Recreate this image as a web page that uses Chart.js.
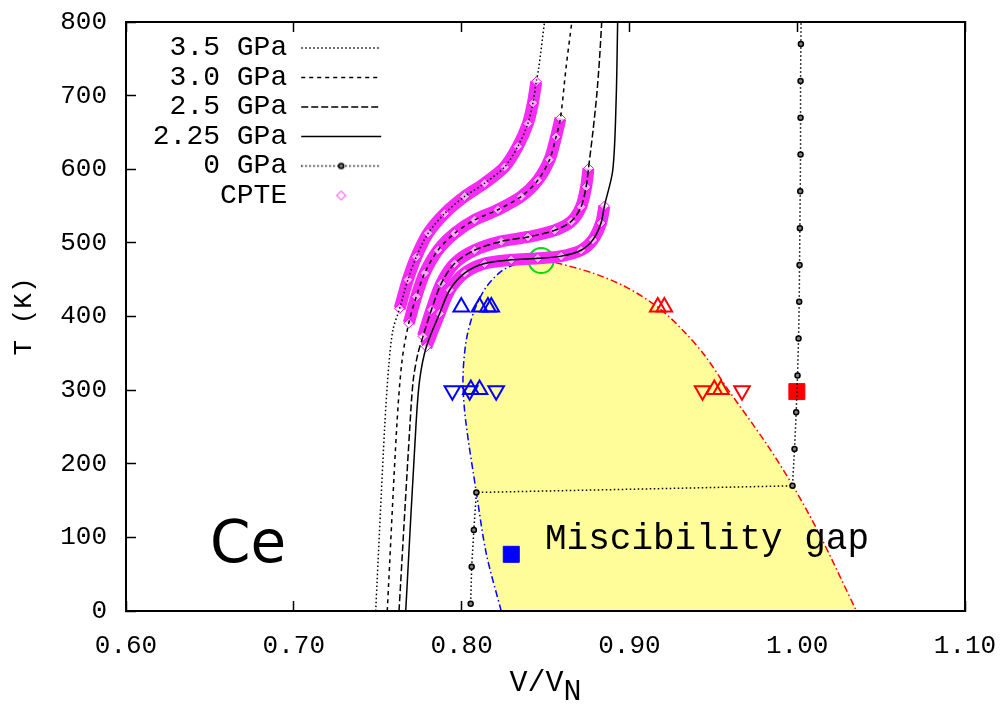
<!DOCTYPE html>
<html>
<head>
<meta charset="utf-8">
<title>Ce - miscibility gap</title>
<script src="https://cdn.jsdelivr.net/npm/chart.js@4.4.1/dist/chart.umd.min.js"></script>
<style>
	html, body { margin: 0; padding: 0; background: #fff; }
	#wrap { width: 1003px; height: 704px; }
</style>
</head>
<body>
<div id="wrap"><canvas id="ce-chart" width="1003" height="704"></canvas></div>
<script>
/* global Chart */
(function () {
	'use strict';

	// ── Data: [V/VN, T (K)] ──────────────────────────────────────────────────

	var X_TICKS = [0.60, 0.70, 0.80, 0.90, 1.00, 1.10];
	var Y_TICKS = [0, 100, 200, 300, 400, 500, 600, 700, 800];

	// Isobars: lower tail, CPTE part, upper tail.
	var low35  = [[0.7488, 0], [0.7542, 252], [0.7567, 336], [0.7591, 382]];
	var cpte35 = [[0.7631, 411], [0.7680, 450], [0.7730, 481], [0.7800, 513], [0.7899, 540], [0.8018, 563],
		[0.8137, 581], [0.8256, 603], [0.8335, 631], [0.8395, 662], [0.8425, 690], [0.8445, 719]];
	var high35 = [[0.8458, 735], [0.8494, 800]];

	var low30  = [[0.7557, 0], [0.7614, 252], [0.7645, 340]];
	var cpte30 = [[0.7685, 391], [0.7730, 427], [0.7780, 459], [0.7859, 490], [0.7958, 513], [0.8077, 531],
		[0.8216, 545], [0.8355, 563], [0.8454, 585], [0.8524, 613], [0.8563, 644], [0.8589, 669]];
	var high30 = [[0.8623, 739], [0.8657, 800]];

	var low25  = [[0.7627, 0], [0.7692, 252], [0.7712, 314], [0.7740, 350]];
	var cpte25 = [[0.7770, 373], [0.7820, 409], [0.7879, 445], [0.7958, 472], [0.8077, 490], [0.8236, 502],
		[0.8395, 508], [0.8554, 517], [0.8653, 529], [0.8712, 549], [0.8742, 576], [0.8756, 601]];
	var high25 = [[0.8782, 650], [0.8805, 700], [0.8822, 750], [0.8835, 800]];

	var low225  = [[0.7667, 0], [0.7728, 252], [0.7750, 314]];
	var cpte225 = [[0.7790, 359], [0.7869, 404], [0.7929, 436], [0.8018, 459], [0.8137, 472], [0.8296, 477],
		[0.8454, 479], [0.8594, 482], [0.8712, 490], [0.8782, 504], [0.8831, 527], [0.8851, 550]];
	var high225 = [[0.8901, 599], [0.8921, 694], [0.8930, 800]];

	// 0 GPa path (gamma side, alpha-gamma jump, alpha side).
	var gpa0 = [[1.0024, 820], [1.0022, 770], [1.0020, 720], [1.0020, 670], [1.0020, 620], [1.0018, 570],
		[1.0016, 520], [1.0014, 470], [1.0012, 420], [1.0008, 370], [1.0002, 320], [0.9994, 270],
		[0.9984, 220], [0.9972, 170], [0.8088, 161], [0.8073, 110], [0.8060, 60], [0.8054, 10]];

	// Miscibility gap boundary, left branch bottom -> critical point, right branch critical -> bottom.
	var gapLeft  = [[0.8236, 0], [0.8147, 78], [0.8088, 161], [0.8024, 259], [0.8008, 314], [0.8028, 368],
		[0.8077, 409], [0.8147, 440], [0.8246, 463], [0.8365, 474], [0.8474, 476]];
	var gapRight = [[0.8474, 476], [0.8544, 474], [0.8782, 459], [0.8980, 440], [0.9179, 411], [0.9337, 377],
		[0.9456, 345], [0.9590, 300], [0.9814, 228], [0.9972, 171], [1.0131, 105], [1.0353, 0]];

	var critical = [[0.8474, 476]];

	// Experimental points.
	var blueUp   = [[0.7998, 413], [0.8107, 413], [0.8157, 413], [0.8177, 413], [0.8055, 301], [0.8107, 301]];
	var blueDown = [[0.7945, 299], [0.8048, 299], [0.8206, 299]];
	var redUp    = [[0.9169, 413], [0.9208, 413], [0.9506, 301], [0.9546, 301]];
	var redDown  = [[0.9436, 299], [0.9671, 299]];
	var blueSq   = [[0.8296, 77]];
	var redSq    = [[0.9998, 298]];

	// Free text anchored in data space.
	var NOTES = [
		{ text: 'Ce', x: 0.650, y: 66, font: '58px "DejaVu Sans"' },
		{ text: 'Miscibility gap', x: 0.8497, y: 84, font: '36px "Liberation Mono"' }
	];

	// ── Helpers ──────────────────────────────────────────────────────────────

	var MONO = '"Liberation Mono", "DejaVu Sans Mono", monospace';

	function pts(list) {
		return list.map(function (p) { return { x: p[0], y: p[1] }; });
	}

	function glyph(w, h, paint) {
		var c = document.createElement('canvas');
		c.width = w;
		c.height = h;
		paint(c.getContext('2d'), w, h);
		return c;
	}

	// Legend samples that Chart.js cannot draw from a point style alone.
	var zeroGlyph = glyph(80, 9, function (g, w, h) {
		g.strokeStyle = '#000';
		g.lineWidth = 1.5;
		g.setLineDash([1.5, 2.5]);
		g.beginPath(); g.moveTo(0, h / 2); g.lineTo(w, h / 2); g.stroke();
		g.setLineDash([]);
		g.fillStyle = '#808080';
		g.beginPath(); g.arc(w / 2, h / 2, 2.5, 0, Math.PI * 2); g.fill(); g.stroke();
	});

	var cpteGlyph = glyph(12, 12, function (g) {
		g.strokeStyle = '#ff00ff';
		g.lineWidth = 1;
		g.beginPath();
		g.moveTo(6, 1.5); g.lineTo(10.5, 6); g.lineTo(6, 10.5); g.lineTo(1.5, 6);
		g.closePath(); g.stroke();
	});

	function isobar(label, low, cpte, high, dash) {
		return {
			label: label,
			data: pts(low.concat(cpte, high)),
			showLine: true,
			borderColor: '#000',
			borderWidth: 1.5,
			borderDash: dash,
			tension: 0.3,
			pointRadius: 0,
			order: 50,
			inLegend: true
		};
	}

	function cpteBand(list, first) {
		return {
			label: ' CPTE',
			data: pts(list),
			showLine: true,
			borderColor: '#f42cf4',
			borderWidth: 12,
			tension: 0.3,
			pointStyle: 'rectRot',
			pointRadius: 5,
			pointBorderWidth: 1,
			pointBorderColor: '#ff00ff',
			pointBackgroundColor: 'rgba(255,255,255,0.6)',
			order: 80,
			inLegend: first,
			legendGlyph: cpteGlyph
		};
	}

	function markers(list, color, style, radius, rotation) {
		return {
			data: pts(list),
			showLine: false,
			pointStyle: style,
			pointRadius: radius,
			pointRotation: rotation || 0,
			pointBorderWidth: 2,
			pointBorderColor: color,
			pointBackgroundColor: 'rgba(0,0,0,0)',
			order: 40
		};
	}

	function squares(list, color) {
		return {
			data: pts(list),
			showLine: false,
			pointStyle: 'rect',
			pointRadius: 11.3,
			pointBorderWidth: 1,
			pointBorderColor: color,
			pointBackgroundColor: color,
			order: 40
		};
	}

	function boundary(list, color) {
		return {
			data: pts(list),
			showLine: true,
			borderColor: color,
			borderWidth: 1.5,
			borderDash: [7, 3, 1.5, 3],
			tension: 0.3,
			pointRadius: 0,
			order: 90
		};
	}

	// ── Datasets (array order = legend order) ────────────────────────────────

	var datasets = [
		isobar(' 3.5 GPa', low35, cpte35, high35, [1.5, 2.5]),
		isobar(' 3.0 GPa', low30, cpte30, high30, [4, 4]),
		isobar(' 2.5 GPa', low25, cpte25, high25, [7, 3]),
		isobar(' 2.25 GPa', low225, cpte225, high225, []),
		{
			label: ' 0 GPa',
			data: pts(gpa0),
			showLine: true,
			borderColor: '#000',
			borderWidth: 1.5,
			borderDash: [1.5, 2.5],
			tension: 0,
			pointStyle: 'circle',
			pointRadius: 2.5,
			pointBorderWidth: 1.5,
			pointBorderColor: '#000',
			pointBackgroundColor: '#808080',
			order: 30,
			inLegend: true,
			legendGlyph: zeroGlyph
		},
		cpteBand(cpte35, true),
		cpteBand(cpte30, false),
		cpteBand(cpte25, false),
		cpteBand(cpte225, false),
		{
			data: pts(gapLeft.concat(gapRight.slice(1))),
			showLine: true,
			fill: 'shape',
			backgroundColor: '#fffd9a',
			borderColor: 'rgba(0,0,0,0)',
			borderWidth: 0,
			tension: 0.3,
			pointRadius: 0,
			order: 100
		},
		boundary(gapLeft, '#0000ff'),
		boundary(gapRight, '#ff0000'),
		{
			data: pts(critical),
			showLine: false,
			pointStyle: 'circle',
			pointRadius: 12.5,
			pointBorderWidth: 2,
			pointBorderColor: '#00dd00',
			pointBackgroundColor: 'rgba(0,0,0,0)',
			order: 85
		},
		markers(blueUp, '#0000ff', 'triangle', 9),
		markers(blueDown, '#0000ff', 'triangle', 9, 180),
		markers(redUp, '#ff0000', 'triangle', 9),
		markers(redDown, '#ff0000', 'triangle', 9, 180),
		squares(blueSq, '#0000ff'),
		squares(redSq, '#ff0000')
	];

	// ── Axes ─────────────────────────────────────────────────────────────────

	var tickFont = { family: MONO, size: 26 };
	var inTicks  = { drawOnChartArea: false, drawTicks: true, tickLength: -10, tickWidth: 1.5, tickColor: '#000' };
	var frame    = { display: true, color: '#000', width: 2, z: 1 };

	function fixedTicks(values) {
		return function (scale) {
			scale.ticks = values.map(function (v) { return { value: v }; });
		};
	}

	// Fixed box size; label overhang must not shrink the plot area.
	function boxSize(w, h) {
		return function (s) {
			if (w !== null) s.width = w;
			if (h !== null) s.height = h;
			s.paddingTop = s.paddingBottom = s.paddingLeft = s.paddingRight = 0;
		};
	}

	// ── Text notes (Ce, Miscibility gap) ─────────────────────────────────────

	var notePlugin = {
		id: 'notes',
		afterDatasetsDraw: function (chart) {
			var ctx = chart.ctx;
			var xs  = chart.scales.x;
			var ys  = chart.scales.y;
			NOTES.forEach(function (n) {
				ctx.save();
				ctx.font = n.font;
				ctx.fillStyle = '#000';
				ctx.textAlign = 'left';
				ctx.textBaseline = 'alphabetic';
				ctx.fillText(n.text, xs.getPixelForValue(n.x), ys.getPixelForValue(n.y));
				ctx.restore();
			});
		}
	};

	new Chart(document.getElementById('ce-chart'), {
		type: 'scatter',
		data: { datasets: datasets },
		plugins: [notePlugin],
		options: {
			responsive: false,
			animation: false,
			events: [],
			layout: { padding: 0 },
			scales: {
				x: {
					type: 'linear', position: 'bottom', min: 0.6, max: 1.1,
					afterBuildTicks: fixedTicks(X_TICKS),
					afterFit: boxSize(null, 93),
					ticks: {
						font: tickFont, color: '#000', padding: 30, maxRotation: 0, autoSkip: false,
						callback: function (v) { return Number(v).toFixed(2); }
					},
					grid: inTicks,
					border: frame,
					title: {
						display: true, text: ['V/V ', '   N'], color: '#000',
						font: { family: MONO, size: 30, lineHeight: 0.3 },
						padding: { top: 0, bottom: 7 }
					}
				},
				x2: {
					type: 'linear', position: 'top', min: 0.6, max: 1.1,
					afterBuildTicks: fixedTicks(X_TICKS),
					afterFit: boxSize(null, 22),
					ticks: { display: false },
					grid: inTicks,
					border: frame
				},
				y: {
					type: 'linear', position: 'left', min: 0, max: 800,
					afterBuildTicks: fixedTicks(Y_TICKS),
					afterFit: boxSize(126, null),
					ticks: { font: tickFont, color: '#000', padding: 29 },
					grid: inTicks,
					border: frame,
					title: {
						display: true, text: 'T (K)', color: '#000',
						font: { family: MONO, size: 26 },
						padding: { top: 9, bottom: 0 }
					}
				},
				y2: {
					type: 'linear', position: 'right', min: 0, max: 800,
					afterFit: boxSize(38, null),
					ticks: { display: false },
					grid: { drawOnChartArea: false, drawTicks: false },
					border: frame
				}
			},
			plugins: {
				tooltip: { enabled: false },
				legend: {
					position: 'chartArea',
					align: 'start',
					rtl: true,
					title: { display: true, text: ' ', font: { size: 10 }, padding: { top: 10, bottom: 10.5 } },
					labels: {
						usePointStyle: true,
						pointStyleWidth: 80,
						boxHeight: 6,
						padding: 1.5,
						color: '#000',
						font: { family: MONO, size: 28 },
						sort: function (a, b) { return a.datasetIndex - b.datasetIndex; },
						generateLabels: function (chart) {
							var items = Chart.defaults.plugins.legend.labels.generateLabels(chart);
							return items.filter(function (item) {
								return chart.data.datasets[item.datasetIndex].inLegend;
							}).map(function (item) {
								var ds = chart.data.datasets[item.datasetIndex];
								item.pointStyle  = ds.legendGlyph || 'line';
								item.lineDash    = ds.borderDash || [];
								item.lineWidth   = ds.borderWidth;
								item.strokeStyle = ds.borderColor;
								return item;
							});
						}
					}
				}
			}
		}
	});
}());
</script>
</body>
</html>
